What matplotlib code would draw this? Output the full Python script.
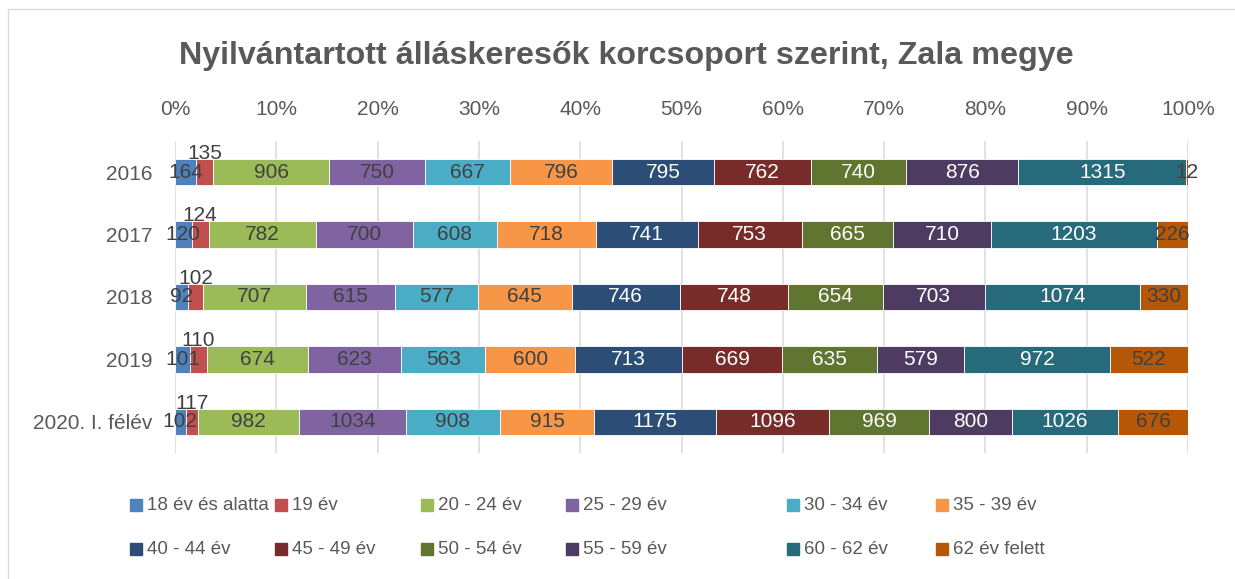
import matplotlib
matplotlib.use("Agg")
import matplotlib.pyplot as plt
import numpy as np
from matplotlib.patches import Rectangle
from matplotlib.lines import Line2D

plt.rcParams['font.family'] = ['Liberation Sans Narrow', 'Liberation Sans', 'DejaVu Sans']

# adatok
years = ["2016", "2017", "2018", "2019", "2020. I. félév"]
groups = ["18 év és alatta", "19 év", "20 - 24 év", "25 - 29 év", "30 - 34 év", "35 - 39 év",
          "40 - 44 év", "45 - 49 év", "50 - 54 év", "55 - 59 év", "60 - 62 év", "62 év felett"]
v_18 = [164, 120, 92, 101, 102]
v_19 = [135, 124, 102, 110, 117]
v_20_24 = [906, 782, 707, 674, 982]
v_25_29 = [750, 700, 615, 623, 1034]
v_30_34 = [667, 608, 577, 563, 908]
v_35_39 = [796, 718, 645, 600, 915]
v_40_44 = [795, 741, 746, 713, 1175]
v_45_49 = [762, 753, 748, 669, 1096]
v_50_54 = [740, 665, 654, 635, 969]
v_55_59 = [876, 710, 703, 579, 800]
v_60_62 = [1315, 1203, 1074, 972, 1026]
v_62_felett = [12, 226, 330, 522, 676]

series = [v_18, v_19, v_20_24, v_25_29, v_30_34, v_35_39,
          v_40_44, v_45_49, v_50_54, v_55_59, v_60_62, v_62_felett]
colors = ["#4F81BD", "#C0504D", "#9BBB59", "#8064A2", "#4BACC6", "#F79646",
          "#2C4D75", "#772C2A", "#5F7530", "#4D3B62", "#276A7C", "#B65708"]
label_col = ["#404040"] * 6 + ["white"] * 5 + ["#404040"]

data = np.array(series, dtype=float)
totals = data.sum(axis=0)
pct = data / totals * 100

fig = plt.figure(figsize=(12.35, 5.79), dpi=100)
ax = fig.add_axes([175 / 1235, 1 - 453 / 579, 1013 / 1235, 312 / 579])

y = np.arange(len(years))
left = np.zeros(len(years))
for i, vals in enumerate(pct):
    ax.barh(y, vals, left=left, height=0.42, color=colors[i], edgecolor="white",
            linewidth=0.6, zorder=3)
    for j in range(len(years)):
        cx = left[j] + vals[j] / 2
        dy = -0.30 if i == 1 else 0
        ax.text(cx, y[j] + dy, str(int(data[i][j])), ha="center", va="center",
                fontsize=15, color=label_col[i], zorder=4)
    left += vals

ax.set_xlim(0, 100)
ax.set_ylim(len(years) - 0.5, -0.5)
ax.set_xticks(np.arange(0, 101, 10))
ax.set_xticklabels([f"{t}%" for t in range(0, 101, 10)])
ax.xaxis.tick_top()
ax.set_yticks(y)
ax.set_yticklabels(years)
ax.tick_params(axis="x", length=0, pad=16, labelsize=15, labelcolor="#595959")
ax.tick_params(axis="y", length=0, pad=16, labelsize=15, labelcolor="#595959")
ax.grid(axis="x", color="#D9D9D9", linewidth=1.1, zorder=0)
for s in ax.spines.values():
    s.set_visible(False)

fig.suptitle("Nyilvántartott álláskeresők korcsoport szerint, Zala megye",
             x=626 / 1235, y=1 - 56 / 579, va="center", fontsize=23.2, fontweight="bold",
             color="#595959")

# legenda kézzel, két sorban
leg_x = [130, 275, 421, 566, 787, 936]
leg_y = [505, 549]
for k, name in enumerate(groups):
    r, c = divmod(k, 6)
    x0 = leg_x[c]
    y0 = leg_y[r]
    fig.patches.append(Rectangle((x0 / 1235, 1 - (y0 + 6) / 579), 12 / 1235, 12 / 579,
                                 transform=fig.transFigure, color=colors[k]))
    fig.text((x0 + 17) / 1235, 1 - y0 / 579, name, ha="left", va="center",
             fontsize=13.5, color="#595959")

# keret
fig.add_artist(Line2D([8 / 1235, 8 / 1235], [0, 1 - 9 / 579], transform=fig.transFigure,
                      color="#D9D9D9", linewidth=1))
fig.add_artist(Line2D([8 / 1235, 1], [1 - 9 / 579, 1 - 9 / 579], transform=fig.transFigure,
                      color="#D9D9D9", linewidth=1))

fig.savefig("out.png", dpi=100)
